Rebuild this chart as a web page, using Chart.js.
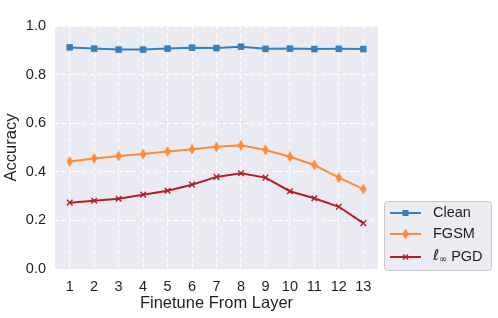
<!DOCTYPE html>
<html>
<head>
<meta charset="utf-8">
<script src="https://cdn.jsdelivr.net/npm/chart.js@4/dist/chart.umd.min.js"></script>
<style>
  html, body { margin: 0; padding: 0; background: #fff; }
  #wrap { width: 498px; height: 318px; position: relative; }
</style>
</head>
<body>
<div id="wrap"><canvas id="chart"></canvas></div>
<script>
  const layers = [1, 2, 3, 4, 5, 6, 7, 8, 9, 10, 11, 12, 13];
  const cleanAcc = [0.912, 0.907, 0.903, 0.903, 0.907, 0.911, 0.909, 0.915, 0.906, 0.907, 0.905, 0.906, 0.905];
  const fgsmAcc = [0.442, 0.455, 0.465, 0.473, 0.484, 0.493, 0.503, 0.509, 0.490, 0.462, 0.428, 0.376, 0.329];
  const pgdAcc = [0.273, 0.281, 0.289, 0.306, 0.322, 0.347, 0.379, 0.394, 0.376, 0.320, 0.291, 0.256, 0.189];
  const yTicks = [0, 0.2, 0.4, 0.6, 0.8, 1.0];

  const BLUE = '#3a7fbb';
  const ORANGE = '#ff8b36';
  const RED = '#b41f25';
  const TEXT = '#1f1f1f';
  const FONT = '"Liberation Sans", Arial, sans-serif';

  function thinDiamond(color) {
    const c = document.createElement('canvas');
    c.width = 8; c.height = 12;
    const g = c.getContext('2d');
    g.fillStyle = color;
    g.beginPath();
    g.moveTo(4, 0.5); g.lineTo(7.2, 6); g.lineTo(4, 11.5); g.lineTo(0.8, 6);
    g.closePath(); g.fill();
    return c;
  }
  const diamond = thinDiamond(ORANGE);

  const toPoints = (vals) => vals.map((v, i) => ({ x: layers[i], y: v }));

  const bgPlugin = {
    id: 'bg',
    beforeDraw(chart) {
      const { ctx, chartArea: a } = chart;
      ctx.save();
      ctx.fillStyle = '#eaeaf2';
      ctx.fillRect(a.left, a.top, a.right - a.left, a.bottom - a.top);
      ctx.restore();
    }
  };

  const legendPlugin = {
    id: 'boxLegend',
    afterDraw(chart) {
      const ctx = chart.ctx;
      ctx.save();
      const x = 384, y = 201, w = 107, h = 69, r = 3;
      ctx.beginPath();
      ctx.roundRect(x + 0.5, y + 0.5, w, h, r);
      ctx.fillStyle = '#ececf3';
      ctx.fill();
      ctx.strokeStyle = '#c8c8c8';
      ctx.lineWidth = 1;
      ctx.stroke();

      const rows = [
        { label: 'Clean', color: BLUE, y: 213, mark: 'sq' },
        { label: 'FGSM', color: ORANGE, y: 234, mark: 'dia' },
        { label: 'PGD', color: RED, y: 257, mark: 'x' }
      ];
      rows.forEach((row) => {
        ctx.strokeStyle = row.color;
        ctx.lineWidth = 2;
        ctx.beginPath();
        ctx.moveTo(390, row.y); ctx.lineTo(421, row.y);
        ctx.stroke();
        const cx = 405.5;
        if (row.mark === 'sq') {
          ctx.fillStyle = row.color;
          ctx.fillRect(cx - 3, row.y - 3, 6, 6);
        } else if (row.mark === 'dia') {
          ctx.drawImage(diamond, cx - 4, row.y - 6);
        } else {
          ctx.lineWidth = 1.3;
          ctx.beginPath();
          ctx.moveTo(cx - 2.5, row.y - 2.5); ctx.lineTo(cx + 2.5, row.y + 2.5);
          ctx.moveTo(cx + 2.5, row.y - 2.5); ctx.lineTo(cx - 2.5, row.y + 2.5);
          ctx.stroke();
        }
        ctx.fillStyle = TEXT;
        ctx.textBaseline = 'middle';
        ctx.textAlign = 'left';
        if (row.mark === 'x') {
          ctx.font = 'italic 15px "DejaVu Sans", sans-serif';
          ctx.fillText('ℓ', 433, row.y - 1);
          let tx = 433 + ctx.measureText('ℓ').width;
          ctx.font = '9.5px "DejaVu Sans", sans-serif';
          ctx.fillText('∞', tx, row.y + 3);
          tx += ctx.measureText('∞').width;
          ctx.font = '14.5px ' + FONT;
          ctx.fillText(' ' + row.label, tx, row.y);
        } else {
          ctx.font = '14.5px ' + FONT;
          ctx.fillText(row.label, 433, row.y);
        }
      });
      ctx.restore();
    }
  };

  const gridStyle = {
    color: '#ffffff',
    lineWidth: 1,
    drawTicks: false,
  };

  new Chart(document.getElementById('chart'), {
    type: 'line',
    data: {
      datasets: [
        {
          label: 'Clean',
          data: toPoints(cleanAcc),
          borderColor: BLUE,
          backgroundColor: BLUE,
          borderWidth: 2,
          pointStyle: 'rect',
          pointRadius: 4.6,
          pointBorderWidth: 0,
          tension: 0,
        },
        {
          label: 'FGSM',
          data: toPoints(fgsmAcc),
          borderColor: ORANGE,
          backgroundColor: ORANGE,
          borderWidth: 2,
          pointStyle: diamond,
          tension: 0,
        },
        {
          label: 'ℓ∞ PGD',
          data: toPoints(pgdAcc),
          borderColor: RED,
          backgroundColor: RED,
          borderWidth: 2,
          pointStyle: 'crossRot',
          pointRadius: 4,
          pointBorderWidth: 1.4,
          tension: 0,
        }
      ]
    },
    options: {
      responsive: true,
      maintainAspectRatio: false,
      animation: false,
      events: [],
      layout: { padding: { top: 26, right: 120, left: 0, bottom: 0 } },
      plugins: { legend: { display: false }, tooltip: { enabled: false } },
      scales: {
        x: {
          type: 'linear',
          min: 0.4,
          max: 13.6,
          afterBuildTicks: (s) => { s.ticks = layers.map((v) => ({ value: v })); },
          afterFit: (s) => { s.height = 49; },
          grid: gridStyle,
          border: { display: false, dash: [4, 3] },
          ticks: { color: TEXT, padding: 9, font: { family: FONT, size: 14.5 }, maxRotation: 0 },
          title: { display: true, text: 'Finetune From Layer', color: TEXT, font: { family: FONT, size: 16.5 }, padding: { top: 0, bottom: 5 } }
        },
        y: {
          min: 0,
          max: 1,
          afterBuildTicks: (s) => { s.ticks = yTicks.map((v) => ({ value: v })); },
          afterFit: (s) => { s.width = 55; },
          grid: gridStyle,
          border: { display: false, dash: [4, 3] },
          ticks: { color: TEXT, padding: 9, font: { family: FONT, size: 14.5 }, callback: (v) => v.toFixed(1) },
          title: { display: true, text: 'Accuracy', color: TEXT, font: { family: FONT, size: 16.5 }, padding: { top: 2, bottom: 0 } }
        }
      }
    },
    plugins: [bgPlugin, legendPlugin]
  });
</script>
</body>
</html>
